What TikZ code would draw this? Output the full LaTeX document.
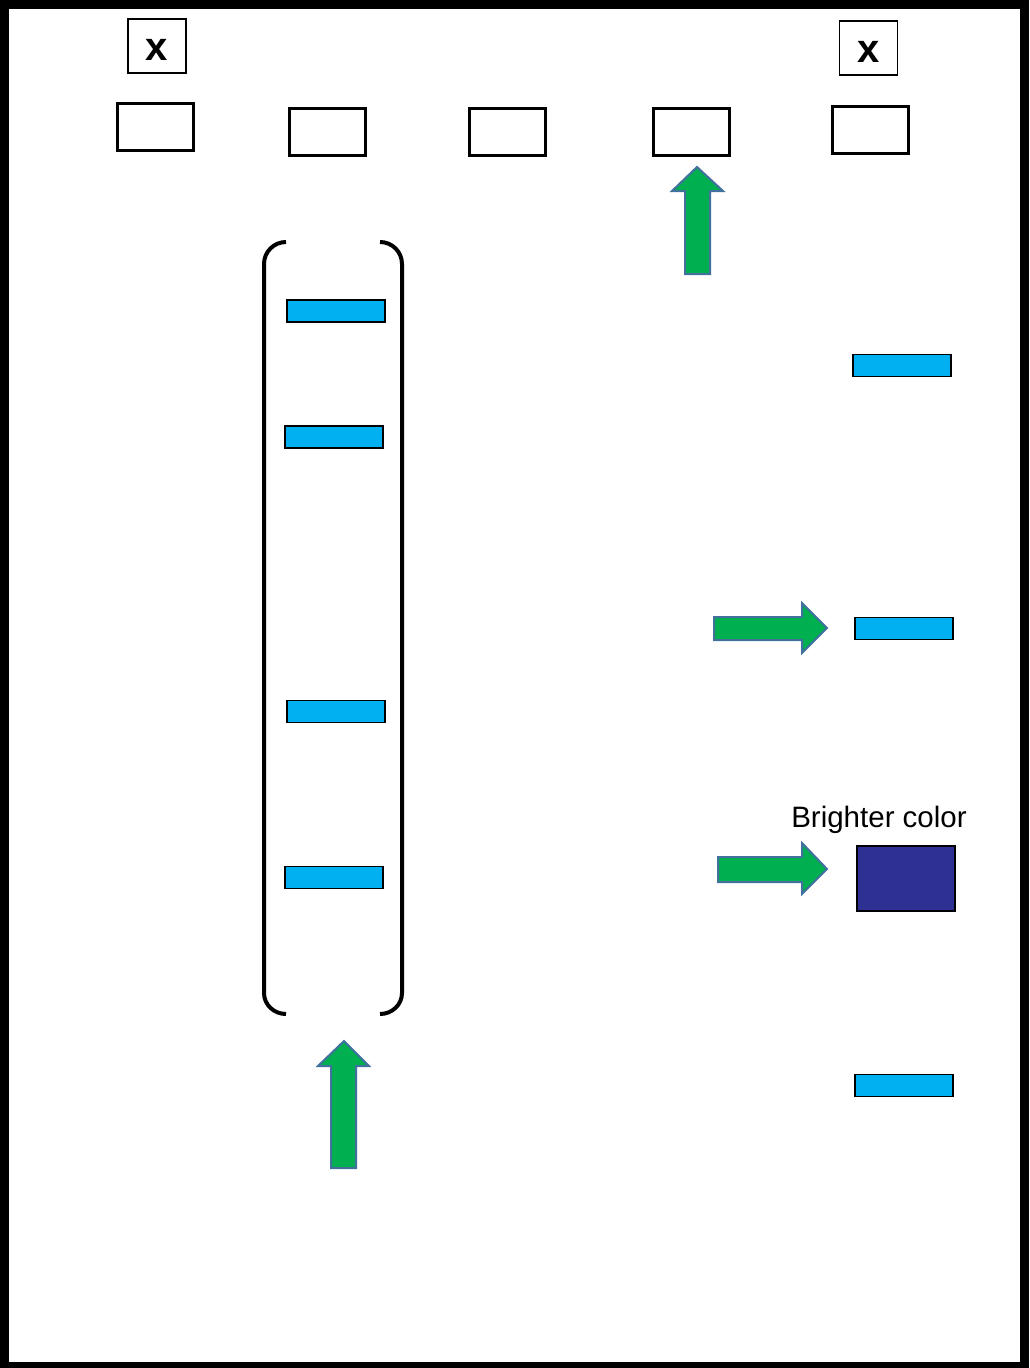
\documentclass[tikz,border=0pt]{standalone}
\usepackage{fontspec}
\setmainfont{Liberation Sans}
\usetikzlibrary{positioning}

\definecolor{bandblue}{RGB}{0,176,240}
\definecolor{arrowgreen}{RGB}{0,176,80}
\definecolor{arrowedge}{RGB}{65,113,156}
\definecolor{brightband}{RGB}{46,49,146}

\tikzset{
	well/.style={draw, line width=3pt, minimum width=76pt, minimum height=47pt, inner sep=0pt},
	xbox/.style={draw, line width=1.5pt, minimum width=58pt, minimum height=54pt, inner sep=0pt},
	xtext/.style={font=\fontsize{40}{40}\selectfont\bfseries},
	band/.style={draw, fill=bandblue, line width=1.8pt, minimum width=98pt, minimum height=22pt, inner sep=0pt},
	greenarrow/.style={fill=arrowgreen, draw=arrowedge, line width=2pt, line join=miter},
	bracket/.style={line width=4pt},
}

\begin{document}
\begin{tikzpicture}[x=1pt, y=-1pt]

	\useasboundingbox (0,0) rectangle (1029,1368);
	% frame
	\fill[black] (0,0) rectangle (1029,1368);
	\fill[white] (9,9) rectangle (1020,1362);

	% wells
	\node[well] (well1) at (155.5,127) {};
	\node[well] (well2) at (327.5,132) {};
	\node[well] (well3) at (507.5,131.5) {};
	\node[well] (well4) at (691.5,131.5) {};
	\node[well] (well5) at (870.5,130) {};

	\node[xbox] (x1) at (157,46) {};
	\node[xbox] (x2) at (868.5,48) {};
	\node[xtext] (xlabel1) at ([yshift=-4pt]x1.center) {x};
	\node[xtext] (xlabel2) at ([yshift=-4pt]x2.center) {x};

	% ladder lane
	\node[band] (ladder1) at (336,311) {};
	\node[band] (ladder2) at (334,437) {};
	\node[band] (ladder3) at (336,711.5) {};
	\node[band] (ladder4) at (334,877.5) {};

	\draw[bracket] (286,242) to[out=180, in=90] (264,264) -- (264,993) to[out=-90, in=180] (286,1014);
	\draw[bracket] (380,242) to[out=0, in=90] (402,264) -- (402,993) to[out=-90, in=0] (380,1014);

	% sample lane
	\node[band] (sample1) at (902,365.5) {};
	\node[band] (sample2) at (904,628.5) {};
	\node[draw, fill=brightband, line width=1.8pt, minimum width=98pt, minimum height=65pt, inner sep=0pt]
		(sample3) at (906,878.5) {};
	\node[band] (sample4) at (904,1085.5) {};

	\node[font=\fontsize{29.5}{29.5}\selectfont] (bright) at (879,820) {Brighter color};

	% arrows
	\draw[greenarrow] (685,274) -- (685,191) -- (672,191) -- (697,167) -- (723,191) -- (710,191) -- (710,274) -- cycle;
	\draw[greenarrow] (331,1168) -- (331,1066) -- (318,1066) -- (344,1041) -- (369,1066) -- (356,1066) -- (356,1168) -- cycle;
	\draw[greenarrow] (714,617) -- (802,617) -- (802,603) -- (827,628) -- (802,653) -- (802,640) -- (714,640) -- cycle;
	\draw[greenarrow] (718,857) -- (802,857) -- (802,843) -- (827,869) -- (802,894) -- (802,882) -- (718,882) -- cycle;

\end{tikzpicture}
\end{document}
